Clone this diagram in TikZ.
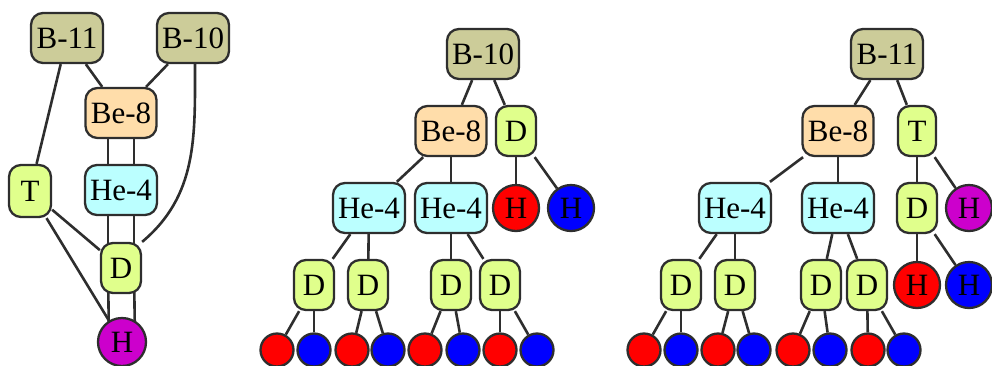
\documentclass[tikz,border=0pt]{standalone}
\usepackage{fontspec}
\setmainfont{Liberation Serif}
\usetikzlibrary{backgrounds}

\definecolor{boronc}{HTML}{CCCC99}
\definecolor{berylc}{HTML}{FFDDAA}
\definecolor{heliumc}{HTML}{BBFFFF}
\definecolor{deutc}{HTML}{E0FF8C}
\definecolor{purplec}{HTML}{CC00CC}
\definecolor{linec}{HTML}{2E2E2E}

\begin{document}
\begin{tikzpicture}[
    x=1pt, y=1pt,
    nucleus/.style={rectangle, rounded corners=12pt, draw=linec, line width=2.3pt, minimum height=50pt, inner xsep=5pt, inner ysep=0pt, font=\fontsize{31}{31}\selectfont},
    boron/.style={nucleus, fill=boronc, minimum width=72pt},
    beryl/.style={nucleus, fill=berylc, minimum width=71pt},
    helium/.style={nucleus, fill=heliumc, minimum width=72pt},
    light/.style={nucleus, fill=deutc, minimum width=40pt},
    atom/.style={circle, draw=linec, line width=2.3pt, minimum size=46pt, inner sep=0pt, font=\fontsize{31}{31}\selectfont},
    dot/.style={circle, draw=linec, line width=2.3pt, minimum size=33pt, inner sep=0pt},
    link/.style={draw=linec, line width=2.6pt}
]
\useasboundingbox (0,0) rectangle (992,-365);

% left: all decay paths together
\node[boron] (lb11) at (67,-38) {B-11};
\node[boron] (lb10) at (193,-38) {B-10};
\node[beryl] (lbe8) at (121,-113) {Be-8};
\node[helium] (lhe4) at (121,-190) {He-4};
\node[light, minimum width=42pt, minimum height=52pt] (lt) at (30,-191) {T};
\node[light] (ld) at (121,-268) {D};
\node[atom, fill=purplec, minimum size=48pt] (lh) at (122,-342) {H};

\begin{scope}[on background layer]
\draw[link] (lb11) -- (lbe8);
\draw[link] (lb10) -- (lbe8);
\draw[link] (lb11) -- (lt);
\draw[link] (lt) -- (ld);
\draw[link] (lt) -- (lh);
\draw[link] (lb10.south) ++(2,0) to[out=-90, in=40] (ld.north east);
\draw[link] ([xshift=-13pt]lbe8.center) -- ([xshift=-13pt]lhe4.center);
\draw[link] ([xshift=13pt]lbe8.center) -- ([xshift=13pt]lhe4.center);
\draw[link] ([xshift=-13pt]lhe4.center) -- ([xshift=-13pt]ld.center);
\draw[link] ([xshift=13pt]lhe4.center) -- ([xshift=13pt]ld.center);
\draw[link] ([xshift=-13pt]ld.center) -- ([xshift=-13pt]lh.center);
\draw[link] ([xshift=13pt]ld.center) -- ([xshift=13pt]lh.center);
\end{scope}

% middle: B-10
\node[boron] (mb10) at (483,-54) {B-10};
\node[beryl] (mbe8) at (451,-131) {Be-8};
\node[light] (md) at (516,-131) {D};
\node[helium] (mhea) at (369,-208) {He-4};
\node[helium] (mheb) at (451,-208) {He-4};
\node[atom, fill=red] (mhr) at (516,-208) {H};
\node[atom, fill=blue] (mhb) at (571,-208) {H};
\node[light] (mda) at (314,-285) {D};
\node[light] (mdb) at (368,-285) {D};
\node[light] (mdc) at (451,-285) {D};
\node[light] (mdd) at (500,-285) {D};
\node[dot, fill=red] (mpa) at (277,-350) {};
\node[dot, fill=blue] (mpb) at (314,-350) {};
\node[dot, fill=red] (mpc) at (352,-350) {};
\node[dot, fill=blue] (mpd) at (388,-350) {};
\node[dot, fill=red] (mpe) at (425,-350) {};
\node[dot, fill=blue] (mpf) at (463,-350) {};
\node[dot, fill=red] (mpg) at (500,-350) {};
\node[dot, fill=blue] (mph) at (537,-350) {};

\draw[link] (mb10) -- (mbe8);
\draw[link] (mb10) -- (md);
\draw[link] (mbe8) -- (mhea);
\draw[link] (mbe8) -- (mheb);
\draw[link] (md) -- (mhr);
\draw[link] (md) -- (mhb);
\draw[link] (mhea) -- (mda);
\draw[link] (mhea) -- (mdb);
\draw[link] (mheb) -- (mdc);
\draw[link] (mheb) -- (mdd);
\draw[link] (mda) -- (mpa);
\draw[link] (mda) -- (mpb);
\draw[link] (mdb) -- (mpc);
\draw[link] (mdb) -- (mpd);
\draw[link] (mdc) -- (mpe);
\draw[link] (mdc) -- (mpf);
\draw[link] (mdd) -- (mpg);
\draw[link] (mdd) -- (mph);

% right: B-11
\node[boron] (rb11) at (887,-54) {B-11};
\node[beryl] (rbe8) at (838,-131) {Be-8};
\node[light, minimum width=38pt] (rt) at (917,-131) {T};
\node[helium] (rhea) at (735,-208) {He-4};
\node[helium] (rheb) at (838,-208) {He-4};
\node[light] (rd) at (917,-208) {D};
\node[atom, fill=purplec] (rh) at (969,-208) {H};
\node[light] (rda) at (681,-285) {D};
\node[light] (rdb) at (735,-285) {D};
\node[light] (rdc) at (821,-285) {D};
\node[light] (rdd) at (867,-285) {D};
\node[atom, fill=red] (rhr) at (917,-285) {H};
\node[atom, fill=blue] (rhb) at (969,-285) {H};
\node[dot, fill=red] (rpa) at (644,-350) {};
\node[dot, fill=blue] (rpb) at (681,-350) {};
\node[dot, fill=red] (rpc) at (718,-350) {};
\node[dot, fill=blue] (rpd) at (754,-350) {};
\node[dot, fill=red] (rpe) at (793,-350) {};
\node[dot, fill=blue] (rpf) at (830,-350) {};
\node[dot, fill=red] (rpg) at (868,-350) {};
\node[dot, fill=blue] (rph) at (904,-350) {};

\draw[link] (rb11) -- (rbe8);
\draw[link] (rb11) -- (rt);
\draw[link] (rbe8) -- (rhea);
\draw[link] (rbe8) -- (rheb);
\draw[link] (rt) -- (rd);
\draw[link] (rt) -- (rh);
\draw[link] (rd) -- (rhr);
\draw[link] (rd) -- (rhb);
\draw[link] (rhea) -- (rda);
\draw[link] (rhea) -- (rdb);
\draw[link] (rheb) -- (rdc);
\draw[link] (rheb) -- (rdd);
\draw[link] (rda) -- (rpa);
\draw[link] (rda) -- (rpb);
\draw[link] (rdb) -- (rpc);
\draw[link] (rdb) -- (rpd);
\draw[link] (rdc) -- (rpe);
\draw[link] (rdc) -- (rpf);
\draw[link] (rdd) -- (rpg);
\draw[link] (rdd) -- (rph);
\end{tikzpicture}
\end{document}
